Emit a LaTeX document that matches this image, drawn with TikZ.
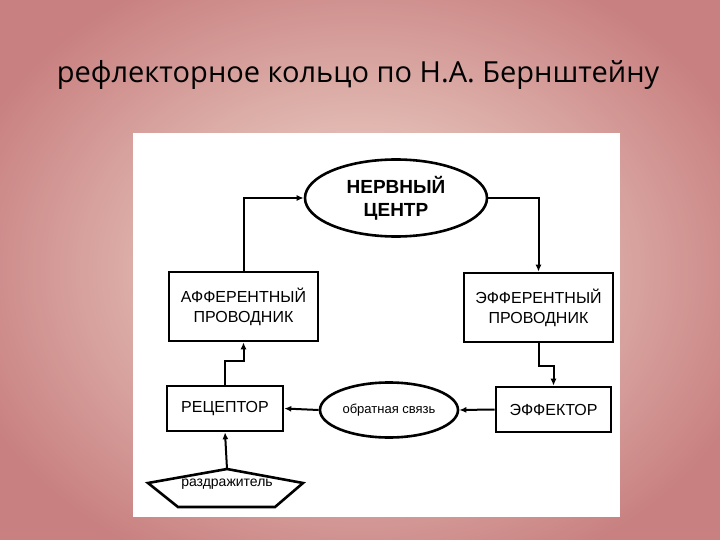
\documentclass[tikz,border=0pt]{standalone}
\usepackage{fontspec}
\setmainfont{Liberation Sans}
\newfontfamily\titlefont{Open Sans}
\usetikzlibrary{shapes.geometric,arrows.meta}
\definecolor{bgout}{RGB}{200,128,128}
\definecolor{bgin}{RGB}{244,226,214}
\begin{document}
\begin{tikzpicture}[x=1pt,y=-1pt,
  box/.style={draw,line width=2.6pt,minimum width=149pt,minimum height=69pt,align=center,font=\fontsize{16}{20}\selectfont,inner sep=0pt},
  sbox/.style={draw,line width=2.6pt,minimum width=116pt,minimum height=45pt,align=center,font=\fontsize{16}{20}\selectfont,inner sep=0pt},
  oval/.style={draw,ellipse,line width=2.6pt,inner sep=0pt,align=center},
  conn/.style={line width=2pt,-{Latex[length=7pt,width=6pt]}}]
\useasboundingbox (0,0) rectangle (720,540);
\begin{scope}
\clip (0,0) rectangle (720,540);
\shade[inner color=bgin,outer color=bgout] (-60,-60) rectangle (780,600);
\end{scope}
\node[font=\titlefont\fontsize{29}{34}\selectfont] (title) at (358,75) {рефлекторное кольцо по Н.А. Бернштейну};
\fill[white] (133,133) rectangle (620,517);
\node[oval,minimum width=182pt,minimum height=77pt,font=\bfseries\fontsize{19}{23}\selectfont] (nc) at (396,198) {НЕРВНЫЙ\\ЦЕНТР};
\node[box] (aff) at (243.5,306.5) {АФФЕРЕНТНЫЙ\\ПРОВОДНИК};
\node[box] (eff) at (538.5,307.5) {ЭФФЕРЕНТНЫЙ\\ПРОВОДНИК};
\node[sbox] (rec) at (225,408.5) {РЕЦЕПТОР};
\node[oval,minimum width=138pt,minimum height=55pt,font=\fontsize{13}{16}\selectfont] (fb) at (389,410) {обратная связь};
\node[sbox,minimum width=115pt] (ef) at (553.5,409.5) {ЭФФЕКТОР};
\draw[line width=2.6pt] (148,483) -- (227,469) -- (303,483) -- (275,507) -- (178,507) -- cycle;
\node[font=\fontsize{14}{17}\selectfont] (st) at (227,484) {раздражитель};
\coordinate (p1) at (227,469);
\draw[conn] (aff.north) |- (nc.west);
\draw[conn] (nc.east) -| (eff.north);
\draw[conn] (eff.south) -- ++(0,23) -| (ef.north);
\draw[conn] (rec.north) -- ++(0,-24) -| (aff.south);
\draw[conn] (ef.west) -- (fb.east);
\draw[conn] (fb.west) -- (rec.east);
\draw[conn] (p1) -- (rec.south);
\end{tikzpicture}
\end{document}
